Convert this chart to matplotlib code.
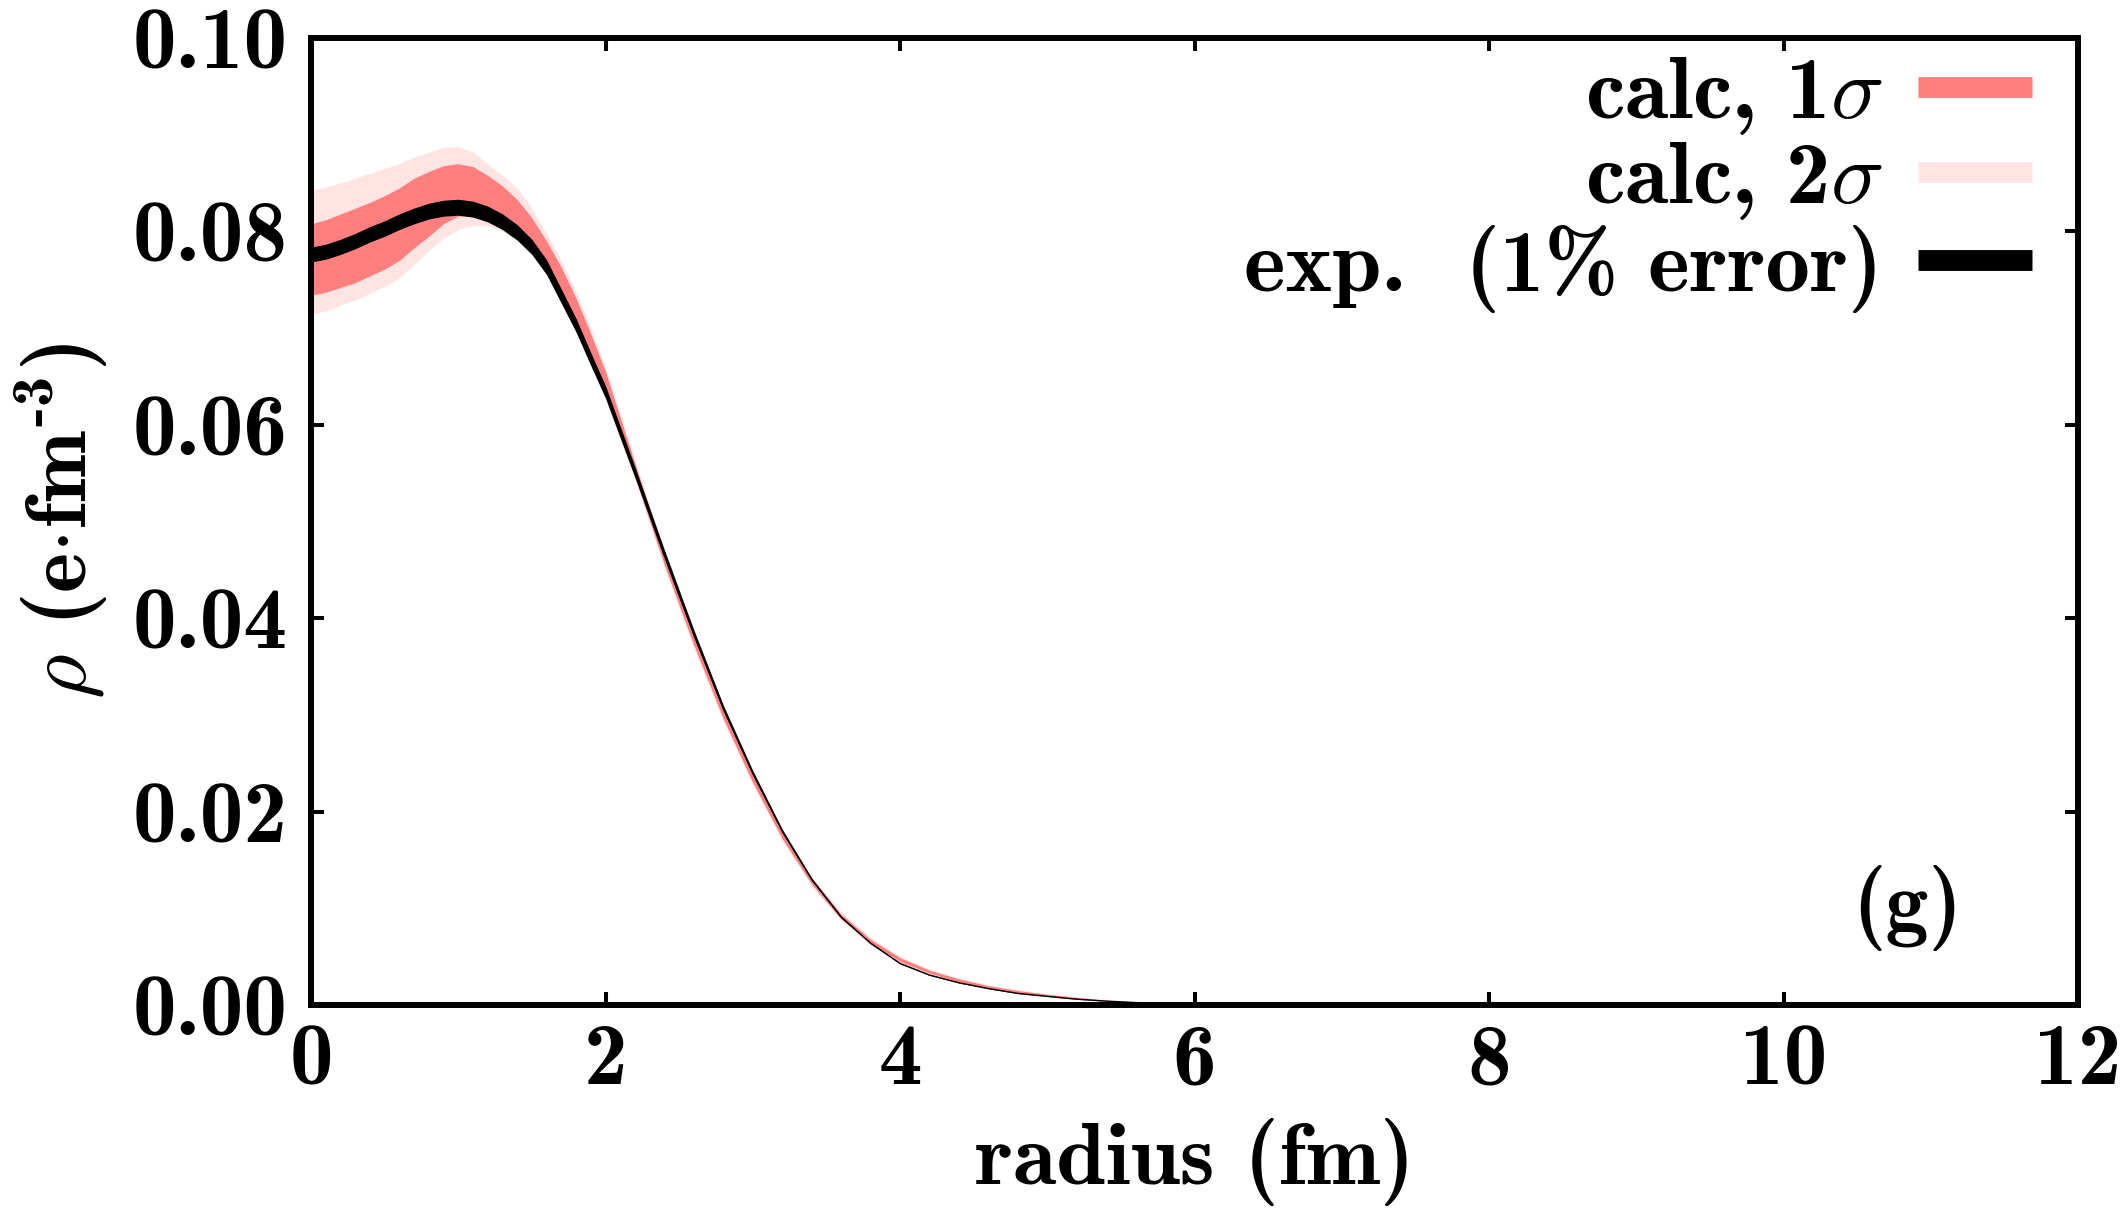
import numpy as np
import matplotlib
matplotlib.use("Agg")
import matplotlib.pyplot as plt
from matplotlib.lines import Line2D

plt.rcParams['mathtext.fontset'] = 'custom'
plt.rcParams['mathtext.rm'] = 'cmb10'
plt.rcParams['mathtext.it'] = 'cmmi10'
plt.rcParams['mathtext.bf'] = 'cmb10'
plt.rcParams['mathtext.fallback'] = 'cm'
plt.rcParams['axes.unicode_minus'] = False

# ---- data ----
radius = [0.0, 0.1, 0.2, 0.3, 0.4, 0.5, 0.6, 0.7, 0.8, 0.9, 1.0, 1.1, 1.2, 1.3, 1.4,
          1.5, 1.6, 1.7, 1.8, 1.9, 2.0, 2.2, 2.4, 2.6, 2.8,
          3.0, 3.2, 3.4, 3.6, 3.8, 4.0, 4.2, 4.4, 4.6, 4.8, 5.0, 5.2, 5.4, 5.6, 5.8,
          6.0, 6.5, 7.0, 8.0, 9.0, 10.0, 11.0, 12.0]
rho_exp = [0.0776, 0.0779, 0.0784, 0.0790, 0.0797, 0.0803, 0.0810, 0.0816, 0.0821, 0.0824,
           0.0825, 0.0823, 0.0818, 0.0810, 0.0799, 0.0784, 0.0763, 0.0733, 0.0703, 0.0668,
           0.0634, 0.0551, 0.0466, 0.0384, 0.0307,
           0.0240, 0.0180, 0.0130, 0.0091, 0.0064, 0.0043, 0.0031, 0.0023, 0.0017, 0.0012,
           0.0009, 0.0006, 0.0004, 0.00025, 0.00015,
           0.0001, 0.00003, 0.00001, 0.0, 0.0, 0.0, 0.0, 0.0]
calc_1s_lo = [0.0734, 0.0737, 0.0742, 0.0747, 0.0754, 0.0761, 0.0770, 0.0783, 0.0795, 0.0808,
              0.0816, 0.0816, 0.0812, 0.0804, 0.0793, 0.0778, 0.0757, 0.0728, 0.0698, 0.0663,
              0.0628, 0.0546, 0.0455, 0.0372, 0.0296,
              0.0230, 0.0172, 0.0125, 0.0089, 0.0064, 0.0045, 0.0033, 0.0024, 0.0017, 0.0012,
              0.0009, 0.0006, 0.0004, 0.00025, 0.00015,
              0.0001, 0.00003, 0.00001, 0.0, 0.0, 0.0, 0.0, 0.0]
calc_1s_hi = [0.0808, 0.0812, 0.0818, 0.0824, 0.0830, 0.0837, 0.0845, 0.0855, 0.0862, 0.0868,
              0.0870, 0.0867, 0.0858, 0.0847, 0.0833, 0.0814, 0.0790, 0.0763, 0.0731, 0.0694,
              0.0655, 0.0560, 0.0466, 0.0383, 0.0306,
              0.0239, 0.0180, 0.0131, 0.0094, 0.0068, 0.0049, 0.0036, 0.0027, 0.0020, 0.0015,
              0.0011, 0.0008, 0.0005, 0.0003, 0.0002,
              0.00012, 0.00004, 0.00001, 0.0, 0.0, 0.0, 0.0, 0.0]
calc_2s_lo = [0.0714, 0.0718, 0.0724, 0.0729, 0.0736, 0.0743, 0.0752, 0.0766, 0.0780, 0.0793,
              0.0802, 0.0806, 0.0806, 0.0800, 0.0791, 0.0776, 0.0755, 0.0726, 0.0696, 0.0661,
              0.0626, 0.0543, 0.0452, 0.0369, 0.0293,
              0.0228, 0.0170, 0.0123, 0.0087, 0.0062, 0.0044, 0.0032, 0.0023, 0.0017, 0.0012,
              0.0008, 0.0006, 0.0004, 0.00024, 0.00014,
              0.0001, 0.00003, 0.00001, 0.0, 0.0, 0.0, 0.0, 0.0]
calc_2s_hi = [0.0843, 0.0846, 0.0850, 0.0855, 0.0860, 0.0865, 0.0870, 0.0877, 0.0882, 0.0887,
              0.0888, 0.0882, 0.0870, 0.0858, 0.0845, 0.0824, 0.0798, 0.0770, 0.0738, 0.0700,
              0.0660, 0.0564, 0.0469, 0.0386, 0.0309,
              0.0242, 0.0182, 0.0133, 0.0096, 0.0070, 0.0050, 0.0037, 0.0028, 0.0021, 0.0016,
              0.0012, 0.0008, 0.0006, 0.00035, 0.0002,
              0.00013, 0.00004, 0.00001, 0.0, 0.0, 0.0, 0.0, 0.0]
exp_rel_error = 0.01

labels = ["calc, 1$\\sigma$", "calc, 2$\\sigma$", "exp.  (1% error)"]
xticks = [0, 2, 4, 6, 8, 10, 12]
yticks = [0.00, 0.02, 0.04, 0.06, 0.08, 0.10]

c1 = "#ff7f7f"
c2 = "#ffe4e4"

W, H = 2120, 1209
fig = plt.figure(figsize=(W / 100, H / 100), dpi=100)
ax = fig.add_axes([311 / W, 1 - 1005 / H, (2078 - 311) / W, (1005 - 38) / H])

r = np.array(radius)
e = np.array(rho_exp)
ax.fill_between(r, calc_2s_lo, calc_2s_hi, color=c2, lw=0, zorder=1)
ax.fill_between(r, calc_1s_lo, calc_1s_hi, color=c1, lw=0, zorder=2)
ax.fill_between(r, e * (1 - exp_rel_error), e * (1 + exp_rel_error), color="black", lw=0, zorder=3)
ax.plot(r, e, color="black", lw=1.0, zorder=3)

ax.set_xlim(0, 12)
ax.set_ylim(0, 0.10)
ax.set_xticks(xticks)
ax.set_yticks(yticks)
ax.set_xticklabels([str(t) for t in xticks], fontfamily="cmb10", fontsize=63)
ax.set_yticklabels(["%.2f" % t for t in yticks], fontfamily="cmb10", fontsize=63)
ax.tick_params(direction="in", length=9.4, width=2.9, top=True, right=True, color="black")
ax.tick_params(axis="x", pad=13)
ax.tick_params(axis="y", pad=17)
for s in ax.spines.values():
    s.set_linewidth(4.3)
    s.set_zorder(5)

ax.set_xlabel("radius (fm)", fontfamily="cmb10", fontsize=64, labelpad=12)
ax.set_ylabel("$\\rho$ (e$\\cdot$fm$^{\\text{-3}}$)", fontfamily="cmb10", fontsize=62, labelpad=16)

handles = [Line2D([], [], color=c1, lw=15, solid_capstyle="butt"),
           Line2D([], [], color=c2, lw=15, solid_capstyle="butt"),
           Line2D([], [], color="black", lw=15, solid_capstyle="butt")]
leg = ax.legend(handles, labels, loc="upper right", bbox_to_anchor=(0.974, 0.982),
                frameon=False, markerfirst=False, handlelength=1.28, handletextpad=0.40,
                borderaxespad=0, borderpad=0, labelspacing=0.03,
                prop={"family": "cmb10", "size": 64})

ax.text(10.84, 0.0100, "(g)", fontfamily="cmb10", fontsize=62, ha="center", va="center")

fig.savefig("out.png", dpi=100)
